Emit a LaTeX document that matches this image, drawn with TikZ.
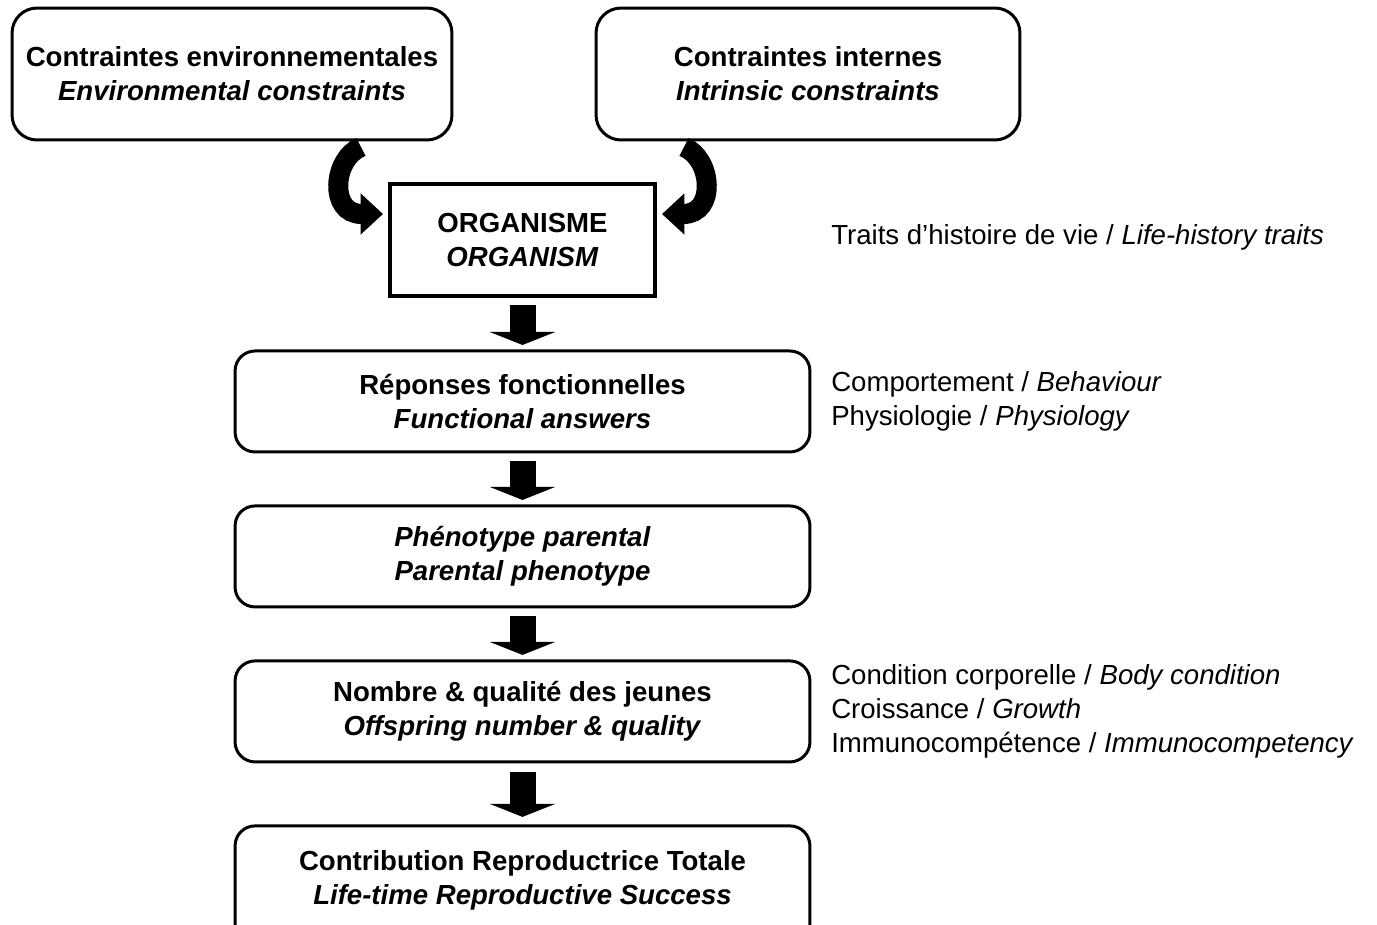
\documentclass[tikz,border=0pt]{standalone}
\usepackage{fontspec}
\setmainfont{Liberation Sans}
\usetikzlibrary{positioning,arrows.meta}
\tikzset{
box/.style = {draw, line width=1.7pt, rectangle, rounded corners=0.4cm, align=center,
  font=\fontsize{15.7}{19.4}\selectfont\bfseries, inner sep=0pt, outer sep=0pt},
topbox/.style = {box, rounded corners=0.5cm, minimum height=2.64cm},
chainbox/.style = {box, minimum width=11.5cm, minimum height=2.02cm},
orgbox/.style = {box, sharp corners, line width=2.3pt, minimum width=5.3cm, minimum height=2.24cm},
side/.style = {align=left, inner sep=0pt, anchor=west, font=\fontsize{15.7}{19.4}\selectfont},
bigarrow/.style = {line width=0.52cm, -{Triangle[width=1.3cm, length=0.26cm]}},
curvy/.style = {line width=0.4cm, -{Triangle[width=0.8cm, length=0.45cm]}}
}
\begin{document}
\begin{tikzpicture}[x=0.02cm, y=-0.02cm]
    \useasboundingbox (0,0) rectangle (1377,924);
    \clip (0,0) rectangle (1377,924);
    % The two constraint boxes on top
    \node [topbox, minimum width=8.8cm] (env) at (232,74)
        {Contraintes environnementales\\\textit{Environmental constraints}};
    \node [topbox, minimum width=8.48cm] (intr) at (808,74)
        {Contraintes internes\\\textit{Intrinsic constraints}};
    \node [orgbox] (org) at (522.5,240) {ORGANISME\\\textit{ORGANISM}};

    % The chain below the organism
    \node [chainbox, below=1.1cm of org] (rep)
        {R\'eponses fonctionnelles\\\textit{Functional answers}};
    \node [chainbox, below=1.08cm of rep] (phen)
        {\textit{Ph\'enotype parental}\\\textit{Parental phenotype}};
    \node [chainbox, below=1.08cm of phen] (nomb)
        {Nombre \& qualit\'e des jeunes\\\textit{Offspring number \& quality}};
    % last box runs off the bottom edge
    \node [chainbox, minimum height=0pt, below=1.28cm of nomb] (contr)
        {\rule{0pt}{25.3pt}Contribution Reproductrice Totale\\\textit{Life-time Reproductive Success}\rule[-40pt]{0pt}{0pt}};

    % Texts on the right
    \node [side, right=0.42cm of rep] (compo)
        {Comportement / \textit{Behaviour}\\Physiologie / \textit{Physiology}};
    \node [side] (traits) at ([yshift=0.06cm]org.east -| compo.west)
        {Traits d’histoire de vie / \textit{Life-history traits}};
    \node [side, right=0.42cm of nomb] (cond)
        {Condition corporelle / \textit{Body condition}\\Croissance / \textit{Growth}\\Immunocomp\'etence / \textit{Immunocompetency}};

    % Curved arrows into the organism
    \coordinate (envtail) at (361,147);
    \coordinate (intrtail) at (684,147);
    \draw [curvy] (envtail) .. controls (333,158) and (328,214) .. ([shift={(-7,-26)}]org.west);
    \draw [curvy] (intrtail) .. controls (712,158) and (717,214) .. ([shift={(7,-26)}]org.east);

    % Block arrows
    \draw [bigarrow] ([yshift=-0.18cm]org.south) -- ([yshift=0.12cm]rep.north);
    \draw [bigarrow] ([yshift=-0.18cm]rep.south) -- ([yshift=0.12cm]phen.north);
    \draw [bigarrow] ([yshift=-0.18cm]phen.south) -- ([yshift=0.12cm]nomb.north);
    \draw [bigarrow] ([yshift=-0.2cm]nomb.south) -- ([yshift=0.18cm]contr.north);
\end{tikzpicture}
\end{document}
